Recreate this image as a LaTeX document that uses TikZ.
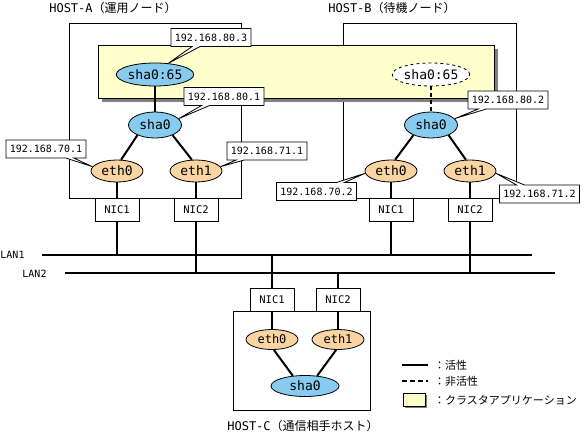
\documentclass[tikz,border=0pt]{standalone}
\usepackage{fontspec}
\setmainfont{Noto Sans CJK JP}
\newfontfamily\monofont{DejaVu Sans Mono}
\usetikzlibrary{shapes}
\usetikzlibrary{shapes.callouts}
\usetikzlibrary{shadows}
\definecolor{clusteryellow}{RGB}{255,255,204}
\definecolor{shablue}{RGB}{135,204,240}
\definecolor{ethorange}{RGB}{250,212,162}
\definecolor{shadowgray}{RGB}{128,128,128}

\begin{document}
\begin{tikzpicture}[x=1pt, y=-1pt,
    hostbox/.style={draw, line width=0.8pt},
    nic/.style={draw, fill=white, line width=0.8pt, minimum width=44pt, minimum height=23pt, inner sep=0pt,
      drop shadow={shadow xshift=1.2pt, shadow yshift=-1.2pt, fill=shadowgray, opacity=1},
      font=\monofont\fontsize{10.5}{10.5}\selectfont},
    ip/.style={rectangle callout, draw, fill=white, line width=0.8pt, minimum width=80pt, minimum height=18pt,
      inner sep=0pt, callout pointer width=8pt, font=\monofont\fontsize{10}{10}\selectfont},
    sha/.style={ellipse, draw, fill=shablue, line width=0.8pt, inner sep=0pt, font=\monofont\fontsize{13}{13}\selectfont},
    eth/.style={ellipse, draw, fill=ethorange, line width=0.8pt, inner sep=0pt, minimum width=52pt, minimum height=22pt,
      font=\monofont\fontsize{13}{13}\selectfont},
    link/.style={line width=2pt},
    lan/.style={line width=1.6pt},
    drop/.style={line width=1.4pt},
    title/.style={font=\fontsize{12}{12}\selectfont},
    legend/.style={anchor=west, inner sep=0pt, font=\fontsize{11}{11}\selectfont},
  ]
    \useasboundingbox (0,0) rectangle (585,433);

    % draw hosts
    \draw[hostbox] (69,23) rectangle (241,198);
    \draw[hostbox] (343,23) rectangle (516,198);
    \draw[hostbox] (233,311) rectangle (370,410);
    \draw[fill=clusteryellow, line width=0.8pt,
      drop shadow={shadow xshift=4pt, shadow yshift=-4pt, fill=shadowgray, opacity=1}] (98,45) rectangle (494,98);

    \node[title] (hosta) at (113,8) {{\monofont HOST-A}（運用ノード）};
    \node[title] (hostb) at (392,8) {{\monofont HOST-B}（待機ノード）};
    \node[title] (hostc) at (303,426) {{\monofont HOST-C}（通信相手ホスト）};

    % draw ellipses
    \node[sha, minimum width=69pt, minimum height=23pt] (sha65a) at (155,74.5) {sha0:65};
    \node[sha, minimum width=53pt, minimum height=26pt] (sha0a) at (155,125) {sha0};
    \node[eth] (eth0a) at (117,171) {eth0};
    \node[eth] (eth1a) at (196,171) {eth1};

    \node[sha, fill=white, dashed, minimum width=70pt, minimum height=23pt] (sha65b) at (431,74.5) {sha0:65};
    \node[sha, minimum width=53pt, minimum height=26pt] (sha0b) at (431,125) {sha0};
    \node[eth] (eth0b) at (391,171) {eth0};
    \node[eth] (eth1b) at (470,171) {eth1};

    \node[eth, minimum height=20pt, font=\monofont\fontsize{12}{12}\selectfont] (eth0c) at (272,339.5) {eth0};
    \node[eth, minimum height=20pt, font=\monofont\fontsize{12}{12}\selectfont] (eth1c) at (338,339.5) {eth1};
    \node[sha, minimum width=68pt, minimum height=21pt] (sha0c) at (305,386) {sha0};

    % draw links
    \draw[link] (sha65a) -- (sha0a);
    \draw[link] (sha0a.210) -- (eth0a.70);
    \draw[link] (sha0a.330) -- (eth1a.110);
    \draw[link, dash pattern=on 4pt off 3pt] (sha65b) -- (sha0b);
    \draw[link] (sha0b.210) -- (eth0b.70);
    \draw[link] (sha0b.330) -- (eth1b.110);
    \draw[link] (eth0c.-80) -- (sha0c.140);
    \draw[link] (eth1c.-100) -- (sha0c.40);

    % draw NICs
    \node[nic] (nic1a) at (117,209.5) {NIC1};
    \node[nic] (nic2a) at (196,209.5) {NIC2};
    \node[nic] (nic1b) at (391,209.5) {NIC1};
    \node[nic] (nic2b) at (470,209.5) {NIC2};
    \node[nic] (nic1c) at (272,299.5) {NIC1};
    \node[nic] (nic2c) at (338,299.5) {NIC2};

    % draw LANs
    \coordinate (lan1w) at (42,255);
    \coordinate (lan1e) at (532,255);
    \coordinate (lan2w) at (65,273);
    \coordinate (lan2e) at (555,273);
    \draw[lan] (lan1w) -- (lan1e);
    \draw[lan] (lan2w) -- (lan2e);
    \node[font=\monofont\fontsize{10}{10}\selectfont, inner sep=0pt] (lan1lbl) at (12.5,255) {LAN1};
    \node[font=\monofont\fontsize{10}{10}\selectfont, inner sep=0pt] (lan2lbl) at (34.5,274) {LAN2};

    \draw[drop] (eth0a) -- (nic1a);
    \draw[drop] (eth1a) -- (nic2a);
    \draw[drop] (eth0b) -- (nic1b);
    \draw[drop] (eth1b) -- (nic2b);
    \draw[drop] (nic1c) -- (eth0c);
    \draw[drop] (nic2c) -- (eth1c);
    \draw[drop] (nic1a) -- (nic1a |- lan1w);
    \draw[drop] (nic2a) -- (nic2a |- lan2w);
    \draw[drop] (nic1b) -- (nic1b |- lan1w);
    \draw[drop] (nic2b) -- (nic2b |- lan2w);
    \draw[drop] (nic1c) -- (nic1c |- lan1w);
    \draw[drop] (nic2c) -- (nic2c |- lan2w);

    % draw addresses
    \node[ip, callout absolute pointer={(sha65a.40)}] (ip803) at (211,37.5) {192.168.80.3};
    \node[ip, callout absolute pointer={(sha0a.15)}] (ip801) at (224,96.5) {192.168.80.1};
    \node[ip, callout absolute pointer={(eth0a.170)}] (ip701) at (46,149) {192.168.70.1};
    \node[ip, callout absolute pointer={(eth1a.10)}] (ip711) at (267,151) {192.168.71.1};
    \node[ip, callout absolute pointer={(sha0b.15)}] (ip802) at (508,100) {192.168.80.2};
    \node[ip, callout absolute pointer={(eth0b.185)}] (ip702) at (316.5,191.5) {192.168.70.2};
    \node[ip, callout absolute pointer={(eth1b.-5)}] (ip712) at (539.5,194) {192.168.71.2};

    % legend
    \draw[line width=1.5pt] (402,365) -- (428,365);
    \draw[line width=1.5pt, dash pattern=on 5pt off 3pt] (402,381) -- (428,381);
    \draw[fill=clusteryellow, line width=0.8pt,
      drop shadow={shadow xshift=2pt, shadow yshift=-2pt, fill=shadowgray, opacity=1}] (403,393) rectangle (425,406);
    \node[legend] (lgact) at (434,365) {：活性};
    \node[legend] (lgstb) at (434,381) {：非活性};
    \node[legend] (lgapp) at (434,400) {：クラスタアプリケーション};
\end{tikzpicture}
\end{document}
